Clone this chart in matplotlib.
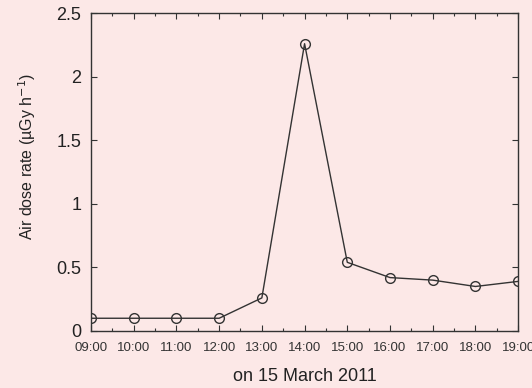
import matplotlib
matplotlib.use('Agg')
from matplotlib import pyplot as plt
from matplotlib.ticker import MultipleLocator

hours = [9, 10, 11, 12, 13, 14, 15, 16, 17, 18, 19]
dose = [0.1, 0.1, 0.1, 0.1, 0.26, 2.26, 0.54, 0.42, 0.40, 0.35, 0.39]
hour_labels = ['09:00', '10:00', '11:00', '12:00', '13:00', '14:00',
               '15:00', '16:00', '17:00', '18:00', '19:00']

bg = '#fce8e7'
ink = '#333333'
plt.rcParams['font.family'] = ['Liberation Sans', 'DejaVu Sans']

fig = plt.figure(figsize=(5.32, 3.88), dpi=100, facecolor=bg)
ax = fig.add_axes([0.171, 0.147, 0.803, 0.819], facecolor=bg)

ax.plot(hours, dose, color=ink, lw=1.0, marker='o', markersize=7,
        markerfacecolor='none', markeredgecolor=ink, markeredgewidth=1.0)

ax.set_xlim(9, 19)
ax.set_ylim(0, 2.5)
ax.set_xticks(hours)
ax.set_xticklabels(hour_labels, fontsize=9.5, color=ink)
ax.xaxis.set_minor_locator(MultipleLocator(0.5))
ax.set_yticks([0, 0.5, 1, 1.5, 2, 2.5])
ax.set_yticklabels(['0', '0.5', '1', '1.5', '2', '2.5'], fontsize=13, color='#222222')
ax.tick_params(axis='both', which='both', direction='in', top=True, right=True,
               color=ink, width=0.8)
ax.tick_params(axis='both', which='major', length=4)
ax.tick_params(axis='x', which='minor', length=2)
ax.tick_params(axis='x', which='major', pad=8)
ax.tick_params(axis='y', which='major', pad=7)
for s in ax.spines.values():
    s.set_color(ink)
    s.set_linewidth(1.0)

ax.set_xlabel('on 15 March 2011', fontsize=13, color='#222222', labelpad=10)
ax.set_ylabel('Air dose rate (µGy h$^{-1}$)', fontsize=11.5, color='#222222', labelpad=13)
ax.yaxis.set_label_coords(-0.125, 0.55)

fig.savefig('out.png', dpi=100, facecolor=bg)
